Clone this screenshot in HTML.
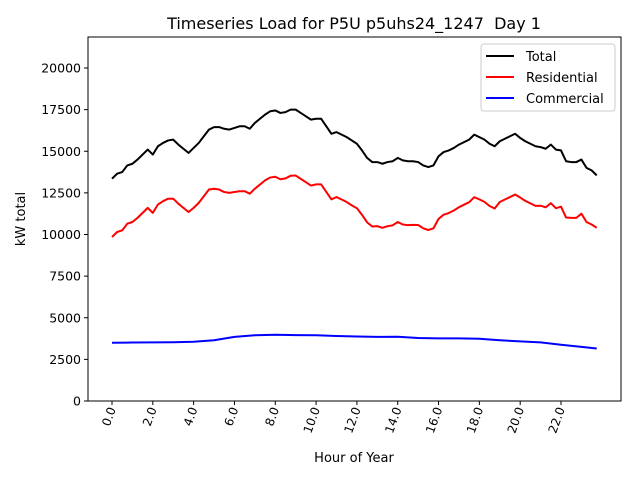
<!DOCTYPE html>
<html><head><meta charset="utf-8"><style>
body{margin:0;background:#fff;}
svg text{font-family:"DejaVu Sans","Liberation Sans",sans-serif;fill:#000;}
</style></head><body>
<svg id="chart" width="640" height="480" viewBox="0 0 640 480">
<rect width="640" height="480" fill="#fff"/>
<text x="354" y="29" font-size="16" text-anchor="middle" style="white-space:pre" xml:space="preserve">Timeseries Load for P5U p5uhs24_1247  Day 1</text>
<g id="yticks"></g><g id="xticks"></g><g id="series"></g>
<rect x="88" y="37" width="533" height="364" fill="none" stroke="#000" stroke-width="1"/>
<text x="354" y="462" font-size="13" text-anchor="middle">Hour of Year</text>
<text transform="translate(25,219) rotate(-90)" font-size="13" text-anchor="middle">kW total</text>
<g>
<rect x="481" y="44" width="134" height="67" rx="3" fill="#fff" stroke="#ccc"/>
<line x1="486" y1="56" x2="514" y2="56" stroke="#000" stroke-width="2"/>
<text x="526" y="61" font-size="13">Total</text>
<line x1="486" y1="77" x2="514" y2="77" stroke="#f00" stroke-width="2"/>
<text x="526" y="82" font-size="13">Residential</text>
<line x1="486" y1="98" x2="514" y2="98" stroke="#00f" stroke-width="2"/>
<text x="526" y="103" font-size="13">Commercial</text>
</g>
</svg>
<script>
const total=[13350,13650,13750,14150,14250,14500,14800,15100,14800,15300,15500,15650,15700,15400,15150,14900,15200,15500,15900,16300,16450,16450,16350,16300,16400,16500,16500,16350,16700,16950,17200,17400,17450,17300,17350,17500,17500,17300,17100,16900,16950,16950,16500,16050,16150,16000,15850,15650,15450,15050,14600,14350,14350,14250,14350,14400,14600,14450,14400,14400,14350,14150,14050,14150,14700,14950,15050,15200,15400,15550,15700,16000,15850,15700,15450,15300,15600,15750,15900,16050,15800,15600,15450,15300,15250,15150,15400,15100,15050,14400,14350,14350,14500,14000,13850,13550];
const residential=[9850,10150,10250,10650,10750,11000,11300,11600,11300,11800,12000,12150,12150,11850,11600,11350,11600,11900,12300,12700,12750,12700,12550,12500,12550,12600,12600,12450,12750,13000,13250,13420,13470,13320,13370,13530,13540,13340,13140,12940,13010,13010,12560,12110,12250,12100,11950,11750,11580,11180,10730,10480,10500,10400,10500,10550,10750,10600,10560,10580,10570,10370,10270,10370,10940,11190,11290,11440,11640,11790,11940,12240,12110,11960,11710,11560,11950,12100,12250,12400,12220,12020,11870,11720,11730,11630,11880,11580,11670,11020,11000,11000,11250,10750,10600,10400];
const commercialHours=[0,1,2,3,4,5,6,7,8,9,10,11,12,13,14,15,16,17,18,19,20,21,22,23,23.75];
const commercial=[3500,3510,3520,3530,3560,3650,3850,3950,3980,3960,3950,3900,3870,3850,3860,3780,3760,3760,3740,3650,3580,3520,3380,3250,3150];
const yTicks=[0,2500,5000,7500,10000,12500,15000,17500,20000];
const xTicks=[0,2,4,6,8,10,12,14,16,18,20,22];
const NS='http://www.w3.org/2000/svg';
function X(h){return 112+h*(561-112)/22;}
function Y(v){return 401-v*333/20000;}
function mk(tag,attrs,parent){const e=document.createElementNS(NS,tag);for(const k in attrs)e.setAttribute(k,attrs[k]);parent.appendChild(e);return e;}
const yt=document.getElementById('yticks'),xt=document.getElementById('xticks'),sg=document.getElementById('series');
yTicks.forEach(v=>{
  const l=mk('line',{x1:84,x2:88,y1:Y(v),y2:Y(v),stroke:'#000'},yt);
  
  
  const t=mk('text',{x:81,y:Y(v)+4.5,'font-size':12.5,'text-anchor':'end'},yt);
  
  
  t.textContent=v;
});
xTicks.forEach(h=>{
  const l=mk('line',{x1:X(h),x2:X(h),y1:401,y2:405,stroke:'#000'},xt);
  
  
  const t=mk('text',{transform:`translate(${X(h)+4},409) rotate(-70)`,'font-size':12,'text-anchor':'end'},xt);
  
  
  t.textContent=h.toFixed(1);
});
function line(xs,vals,color,name){
  const p=mk('polyline',{points:vals.map((v,i)=>X(xs[i]).toFixed(2)+','+Y(v).toFixed(2)).join(' '),fill:'none',stroke:color,'stroke-width':2,'stroke-linejoin':'round'},sg);
  
  
}
const qh=total.map((_,i)=>i*0.25);
line(qh,total,'#000','total-line');
line(qh,residential,'#f00','residential-line');
line(commercialHours,commercial,'#00f','commercial-line');
</script>
</body></html>
